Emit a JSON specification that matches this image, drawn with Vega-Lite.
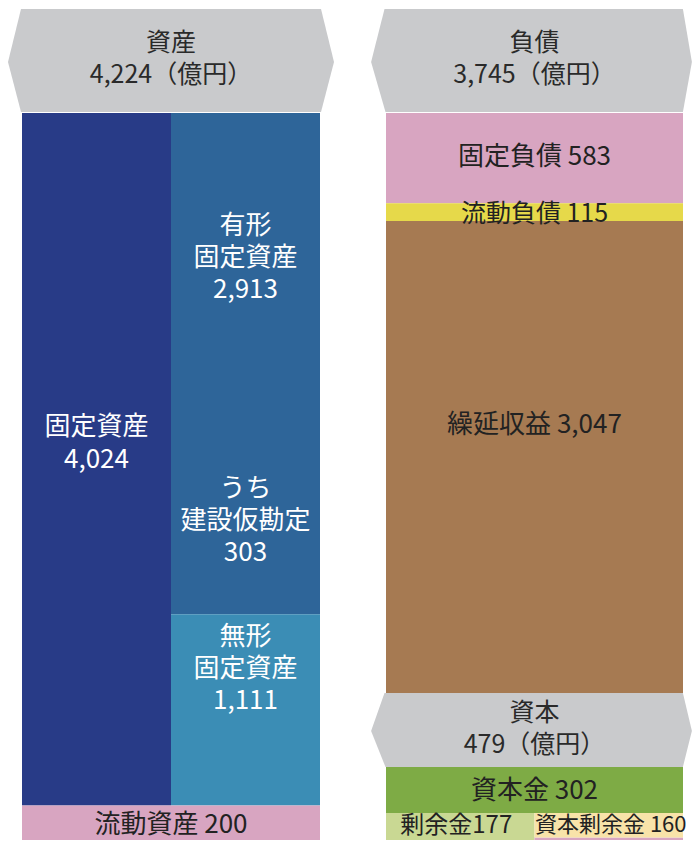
{
  "$schema": "https://vega.github.io/schema/vega-lite/v6.json",
  "background": "white",
  "padding": {"left": 8, "top": 9, "right": 0, "bottom": 0},
  "config": {"view": {"stroke": null}, "text": {"font": "Noto Sans CJK JP"}},
  "datasets": {
    "headers": [
      {"side": "資産", "amount": 4224, "label": "資産\n4,224（億円）"},
      {"side": "負債", "amount": 3745, "label": "負債\n3,745（億円）"},
      {"side": "資本", "amount": 479, "label": "資本\n479（億円）"}
    ],
    "assets": [
      {"item": "固定資産", "amount": 4024, "level": "main", "col": "left", "order": 1, "label": "固定資産\n4,024"},
      {"item": "流動資産", "amount": 200, "level": "main", "col": "full", "order": 2, "label": "流動資産 200"},
      {"item": "有形固定資産", "amount": 2913, "level": "sub", "col": "right", "order": 1, "label": "有形\n固定資産\n2,913", "note": "うち\n建設仮勘定\n303"},
      {"item": "無形固定資産", "amount": 1111, "level": "sub", "col": "right", "order": 2, "label": "無形\n固定資産\n1,111"}
    ],
    "liabilities": [
      {"item": "固定負債", "amount": 583, "order": 1, "label": "固定負債 583"},
      {"item": "流動負債", "amount": 115, "order": 2, "label": "流動負債 115"},
      {"item": "繰延収益", "amount": 3047, "order": 3, "label": "繰延収益 3,047"}
    ],
    "capital": [
      {"item": "剰余金", "amount": 177, "level": "main", "col": "left", "order": 1, "label": "剰余金177"},
      {"item": "資本金", "amount": 302, "level": "main", "col": "full", "order": 2, "label": "資本金 302"},
      {"item": "その他剰余金", "amount": 17, "level": "sub", "col": "right", "order": 1, "label": ""},
      {"item": "資本剰余金", "amount": 160, "level": "sub", "col": "right", "order": 2, "label": "資本剰余金 160"}
    ]
  },
  "spacing": 37,
  "hconcat": [
    {
      "bounds": "flush",
      "spacing": 0,
      "vconcat": [
        {
          "width": 298,
          "height": 104,
          "data": {"name": "headers"},
          "transform": [{"filter": {"field": "side", "equal": "資産"}}],
          "layer": [
            {
              "mark": {"type": "point", "shape": "M-0.75,-0.26L0.75,-0.26L0.815,0.005L0.75,0.255L-0.75,0.255L-0.815,0.005Z", "size": 160000, "filled": true, "color": "#c9cacc", "opacity": 1, "strokeWidth": 0},
              "encoding": {}
            },
            {
              "mark": {"type": "text", "fontSize": 25, "lineHeight": 32, "lineBreak": "\n", "color": "#2a2a2a", "align": "center", "baseline": "middle", "dy": -18},
              "encoding": {"text": {"field": "label"}}
            }
          ]
        },
        {
          "width": 298,
          "height": 727,
          "data": {"name": "assets"},
          "transform": [{"stack": "amount", "groupby": ["level"], "sort": [{"field": "order", "order": "ascending"}], "as": ["y0", "y1"]}],
          "layer": [
            {
              "transform": [{"filter": {"field": "col", "oneOf": ["left", "right"]}}],
              "mark": {"type": "rect"},
              "encoding": {
                "x": {"field": "col", "type": "nominal", "scale": {"domain": ["left", "right"], "paddingInner": 0, "paddingOuter": 0}, "axis": null},
                "y": {"field": "y0", "type": "quantitative", "scale": {"reverse": true, "nice": false, "zero": true}, "axis": null},
                "y2": {"field": "y1"},
                "color": {"field": "item", "type": "nominal", "legend": null, "scale": {"domain": ["固定資産", "有形固定資産", "無形固定資産", "流動資産", "固定負債", "流動負債", "繰延収益", "資本金", "剰余金", "資本剰余金", "その他剰余金"], "range": ["#283b87", "#2e6599", "#3b8db5", "#d8a5c1", "#d8a5c1", "#e6d94a", "#a67a52", "#7eab45", "#c9d893", "#f8e3a9", "#d8a5c1"]}}
              }
            },
            {
              "transform": [{"filter": {"field": "col", "equal": "full"}}],
              "mark": {"type": "rect"},
              "encoding": {
                "y": {"field": "y0", "type": "quantitative", "axis": null},
                "y2": {"field": "y1"},
                "color": {"field": "item", "type": "nominal", "legend": null}
              }
            },
            {
              "transform": [{"filter": {"field": "item", "equal": "固定資産"}}],
              "mark": {"type": "text", "fontSize": 26, "lineHeight": 33, "lineBreak": "\n", "color": "white", "align": "center", "baseline": "middle", "dy": 314},
              "encoding": {
                "x": {"field": "col", "type": "nominal"},
                "y": {"field": "y0", "type": "quantitative"},
                "text": {"field": "label"}
              }
            },
            {
              "transform": [{"filter": {"field": "item", "equal": "有形固定資産"}}],
              "mark": {"type": "text", "fontSize": 26, "lineHeight": 32, "lineBreak": "\n", "color": "white", "align": "center", "baseline": "middle", "dy": 113},
              "encoding": {
                "x": {"field": "col", "type": "nominal"},
                "y": {"field": "y0", "type": "quantitative"},
                "text": {"field": "label"}
              }
            },
            {
              "transform": [{"filter": {"field": "item", "equal": "有形固定資産"}}],
              "mark": {"type": "text", "fontSize": 26, "lineHeight": 32, "lineBreak": "\n", "color": "white", "align": "center", "baseline": "middle", "dy": 376},
              "encoding": {
                "x": {"field": "col", "type": "nominal"},
                "y": {"field": "y0", "type": "quantitative"},
                "text": {"field": "note"}
              }
            },
            {
              "transform": [{"filter": {"field": "item", "equal": "無形固定資産"}}],
              "mark": {"type": "text", "fontSize": 26, "lineHeight": 32, "lineBreak": "\n", "color": "white", "align": "center", "baseline": "middle", "dy": 23},
              "encoding": {
                "x": {"field": "col", "type": "nominal"},
                "y": {"field": "y0", "type": "quantitative"},
                "text": {"field": "label"}
              }
            },
            {
              "transform": [{"filter": {"field": "item", "equal": "流動資産"}}],
              "mark": {"type": "text", "fontSize": 26, "color": "#222222", "align": "center", "baseline": "middle", "dy": 19},
              "encoding": {
                "y": {"field": "y0", "type": "quantitative"},
                "text": {"field": "label"}
              }
            }
          ]
        }
      ]
    },
    {
      "bounds": "flush",
      "spacing": 0,
      "vconcat": [
        {
          "width": 297,
          "height": 104,
          "data": {"name": "headers"},
          "transform": [{"filter": {"field": "side", "equal": "負債"}}],
          "layer": [
            {
              "mark": {"type": "point", "shape": "M-0.75,-0.26L0.742,-0.26L0.787,0.005L0.742,0.255L-0.745,0.255L-0.817,0.005Z", "size": 160000, "filled": true, "color": "#c9cacc", "opacity": 1, "strokeWidth": 0},
              "encoding": {}
            },
            {
              "mark": {"type": "text", "fontSize": 25, "lineHeight": 32, "lineBreak": "\n", "color": "#2a2a2a", "align": "center", "baseline": "middle", "dy": -18},
              "encoding": {"text": {"field": "label"}}
            }
          ]
        },
        {
          "width": 297,
          "height": 580,
          "data": {"name": "liabilities"},
          "transform": [{"stack": "amount", "groupby": [], "sort": [{"field": "order", "order": "ascending"}], "as": ["y0", "y1"]}],
          "layer": [
            {
              "mark": {"type": "rect"},
              "encoding": {
                "y": {"field": "y0", "type": "quantitative", "scale": {"reverse": true, "nice": false, "zero": true}, "axis": null},
                "y2": {"field": "y1"},
                "color": {"field": "item", "type": "nominal", "legend": null, "scale": {"domain": ["固定資産", "有形固定資産", "無形固定資産", "流動資産", "固定負債", "流動負債", "繰延収益", "資本金", "剰余金", "資本剰余金", "その他剰余金"], "range": ["#283b87", "#2e6599", "#3b8db5", "#d8a5c1", "#d8a5c1", "#e6d94a", "#a67a52", "#7eab45", "#c9d893", "#f8e3a9", "#d8a5c1"]}}
              }
            },
            {
              "transform": [{"filter": {"field": "item", "equal": "固定負債"}}],
              "mark": {"type": "text", "fontSize": 26, "color": "#222222", "align": "center", "baseline": "middle", "dy": 44},
              "encoding": {"y": {"field": "y0", "type": "quantitative"}, "text": {"field": "label"}}
            },
            {
              "transform": [{"filter": {"field": "item", "equal": "流動負債"}}],
              "mark": {"type": "text", "fontSize": 25, "color": "#222222", "align": "center", "baseline": "middle", "dy": 11},
              "encoding": {"y": {"field": "y0", "type": "quantitative"}, "text": {"field": "label"}}
            },
            {
              "transform": [{"filter": {"field": "item", "equal": "繰延収益"}}],
              "mark": {"type": "text", "fontSize": 26, "color": "#222222", "align": "center", "baseline": "middle", "dy": 204},
              "encoding": {"y": {"field": "y0", "type": "quantitative"}, "text": {"field": "label"}}
            }
          ]
        },
        {
          "width": 297,
          "height": 74,
          "data": {"name": "headers"},
          "transform": [{"filter": {"field": "side", "equal": "資本"}}],
          "layer": [
            {
              "mark": {"type": "point", "shape": "M-0.75,-0.185L0.742,-0.185L0.787,0.005L0.742,0.185L-0.745,0.185L-0.817,0.005Z", "size": 160000, "filled": true, "color": "#c9cacc", "opacity": 1, "strokeWidth": 0},
              "encoding": {}
            },
            {
              "mark": {"type": "text", "fontSize": 25, "lineHeight": 32, "lineBreak": "\n", "color": "#2a2a2a", "align": "center", "baseline": "middle", "dy": -17},
              "encoding": {"text": {"field": "label"}}
            }
          ]
        },
        {
          "width": 297,
          "height": 73,
          "data": {"name": "capital"},
          "transform": [{"stack": "amount", "groupby": ["level"], "sort": [{"field": "order", "order": "ascending"}], "as": ["y0", "y1"]}],
          "layer": [
            {
              "transform": [{"filter": {"field": "col", "oneOf": ["left", "right"]}}],
              "mark": {"type": "rect"},
              "encoding": {
                "x": {"field": "col", "type": "nominal", "scale": {"domain": ["left", "right"], "paddingInner": 0, "paddingOuter": 0}, "axis": null},
                "y": {"field": "y0", "type": "quantitative", "scale": {"nice": false, "zero": true}, "axis": null},
                "y2": {"field": "y1"},
                "color": {"field": "item", "type": "nominal", "legend": null, "scale": {"domain": ["固定資産", "有形固定資産", "無形固定資産", "流動資産", "固定負債", "流動負債", "繰延収益", "資本金", "剰余金", "資本剰余金", "その他剰余金"], "range": ["#283b87", "#2e6599", "#3b8db5", "#d8a5c1", "#d8a5c1", "#e6d94a", "#a67a52", "#7eab45", "#c9d893", "#f8e3a9", "#d8a5c1"]}}
              }
            },
            {
              "transform": [{"filter": {"field": "col", "equal": "full"}}],
              "mark": {"type": "rect"},
              "encoding": {
                "y": {"field": "y0", "type": "quantitative", "axis": null},
                "y2": {"field": "y1"},
                "color": {"field": "item", "type": "nominal", "legend": null}
              }
            },
            {
              "transform": [{"filter": {"field": "item", "equal": "資本金"}}],
              "mark": {"type": "text", "fontSize": 26, "color": "#222222", "align": "center", "baseline": "middle", "dy": 24},
              "encoding": {"y": {"field": "y1", "type": "quantitative"}, "text": {"field": "label"}}
            },
            {
              "transform": [{"filter": {"field": "item", "equal": "剰余金"}}],
              "mark": {"type": "text", "fontSize": 24, "color": "#222222", "align": "center", "baseline": "middle", "dy": 13, "dx": -4},
              "encoding": {"x": {"field": "col", "type": "nominal"}, "y": {"field": "y1", "type": "quantitative"}, "text": {"field": "label"}}
            },
            {
              "transform": [{"filter": {"field": "item", "equal": "資本剰余金"}}],
              "mark": {"type": "text", "fontSize": 22, "color": "#222222", "align": "center", "baseline": "middle", "dy": 12, "dx": 2},
              "encoding": {"x": {"field": "col", "type": "nominal"}, "y": {"field": "y1", "type": "quantitative"}, "text": {"field": "label"}}
            }
          ]
        }
      ]
    }
  ]
}
